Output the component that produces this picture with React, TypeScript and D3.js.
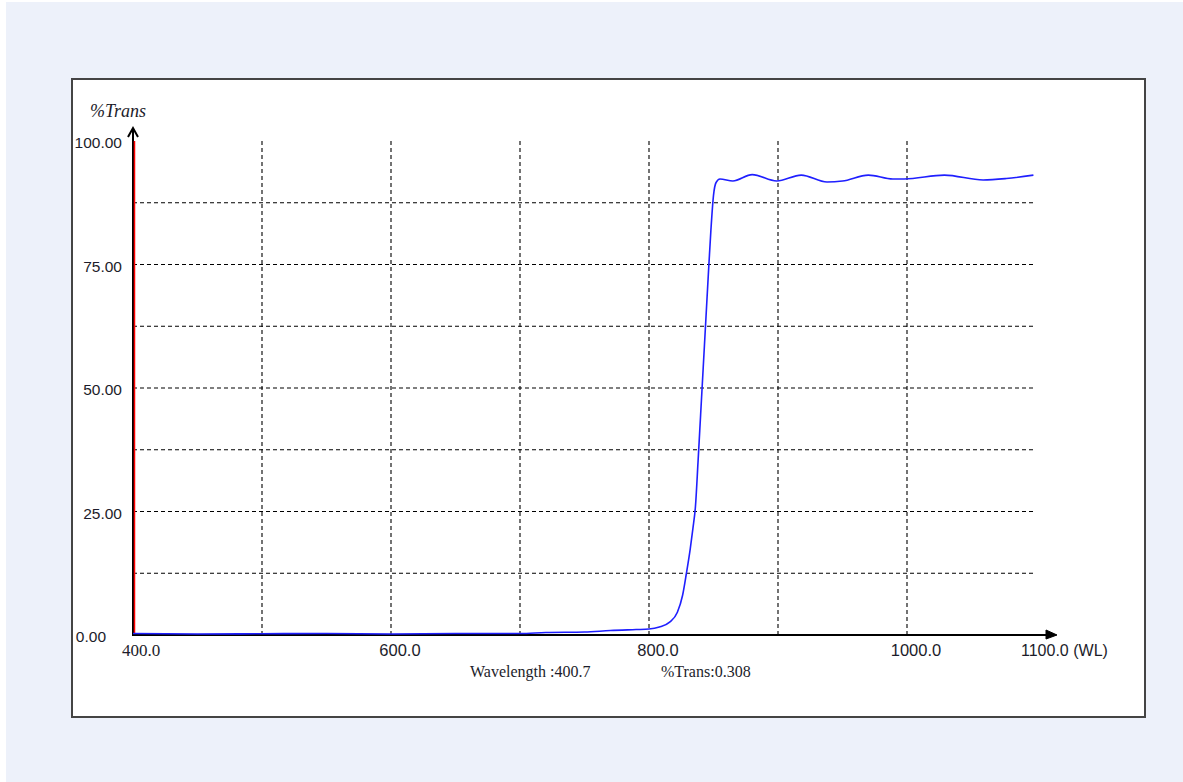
import { useMemo } from "react";
import * as d3 from "d3";

// spectrum: wavelength (nm) and %T
const wavelengths = [
  400, 450, 500, 550, 600, 650, 700, 720, 750, 770, 790, 800, 808, 816, 822,
  826, 829, 832, 834, 836, 838, 840, 842, 844, 846, 848, 850, 852, 855, 865,
  880, 899, 918, 938, 950, 970, 989, 998, 1029, 1059, 1077, 1098,
];
const transmission = [
  0.3, 0.2, 0.25, 0.3, 0.2, 0.3, 0.3, 0.5, 0.6, 0.9, 1.1, 1.2, 1.6, 2.6, 4.6,
  8, 12.5, 17.5, 21.5, 26, 35, 44.5, 54, 63.5, 73, 82, 89, 91.6, 92.3, 91.9,
  93.2, 91.9, 93.1, 91.7, 91.9, 93.1, 92.3, 92.3, 93.1, 92.1, 92.4, 93.1,
];

const xTicks = [400, 600, 800, 1000];
const xGrid = [500, 600, 700, 800, 900, 1000];
const yTicks = [0, 25, 50, 75, 100];
const yGrid = [12.5, 25, 37.5, 50, 62.5, 75, 87.5];

const W = 1183;
const H = 782;

const App = () => {
  const x = d3.scaleLinear().domain([400, 1100]).range([133, 1036]);
  const y = d3.scaleLinear().domain([0, 100]).range([635, 141]);

  const path = useMemo(() => {
    const pts = wavelengths.map((w, i) => [w, transmission[i]] as [number, number]);
    return d3
      .line<[number, number]>()
      .x((d) => x(d[0]))
      .y((d) => y(d[1]))
      .curve(d3.curveMonotoneX)(pts);
  }, []);

  const tickFont = "'Liberation Sans', Arial, sans-serif";
  const serif = "'Liberation Serif', 'Times New Roman', serif";
  const ink = "#1c1c2a";

  return (
    <svg
      width={W}
      height={H}
      style={{ position: "absolute", left: 0, top: 0 }}
    >
      <rect x={0} y={0} width={W} height={H} fill="#ffffff" />
      <rect x={6} y={2} width={W - 6} height={H - 2} fill="#edf1fa" />
      {/* panel */}
      <rect
        x={72}
        y={79}
        width={1073}
        height={638}
        fill="#ffffff"
        stroke="#444"
        strokeWidth={2}
      />

      {/* grid */}
      {yGrid.map((v) => (
        <line
          key={"h" + v}
          x1={x(400)}
          x2={x(1100)}
          y1={y(v)}
          y2={y(v)}
          stroke="#000"
          strokeWidth={1.1}
          strokeDasharray="4,3"
        />
      ))}
      {xGrid.map((v) => (
        <line
          key={"v" + v}
          x1={x(v)}
          x2={x(v)}
          y1={y(100)}
          y2={y(0)}
          stroke="#000"
          strokeWidth={1.1}
          strokeDasharray="4,3"
        />
      ))}

      {/* axes */}
      <line x1={x(400)} x2={x(400)} y1={y(0) + 1} y2={y(100) - 13} stroke="#000" strokeWidth={2} />
      <polyline
        points={`${x(400) - 5},${y(100) - 4} ${x(400)},${y(100) - 13} ${x(400) + 5},${y(100) - 4}`}
        fill="none"
        stroke="#000"
        strokeWidth={2}
      />
      <line x1={x(400) + 1.5} x2={x(400) + 1.5} y1={y(0)} y2={y(100)} stroke="#ff0000" strokeWidth={1.5} />
      <line x1={x(400) - 1} x2={x(1100) + 18} y1={y(0)} y2={y(0)} stroke="#000" strokeWidth={2} />
      <path
        d={`M${x(1100) + 10},${y(0) - 5} L${x(1100) + 21},${y(0)} L${x(1100) + 10},${y(0) + 4} Z`}
        fill="#000"
        stroke="#000"
        strokeWidth={1}
      />

      {/* curve */}
      <path d={path ?? ""} fill="none" stroke="#1f1fff" strokeWidth={1.6} />

      {/* y labels */}
      <text x={90} y={117} fontFamily={serif} fontStyle="italic" fontSize={18} fill={ink}>
        %Trans
      </text>
      {yTicks.map((v) => (
        <text
          key={"yl" + v}
          x={v === 0 ? 106 : 122}
          y={y(v) + 7}
          textAnchor="end"
          fontFamily={tickFont}
          fontSize={15.5}
          fill={ink}
        >
          {v.toFixed(2)}
        </text>
      ))}

      {/* x labels */}
      {xTicks.map((v) => (
        <text
          key={"xl" + v}
          x={x(v) + (v === 400 ? 8 : 9)}
          y={y(0) + 21}
          textAnchor="middle"
          fontFamily={v === 400 ? serif : tickFont}
          fontSize={v === 400 ? 17 : 16.5}
          fill={ink}
        >
          {v.toFixed(1)}
        </text>
      ))}
      <text x={x(1100) - 15} y={y(0) + 21} fontFamily={tickFont} fontSize={16} fill={ink}>
        1100.0 (WL)
      </text>

      {/* readout */}
      <text x={470} y={677} fontFamily={serif} fontSize={16} fill={ink}>
        Wavelength :400.7
      </text>
      <text x={661} y={677} fontFamily={serif} fontSize={16} fill={ink}>
        %Trans:0.308
      </text>
    </svg>
  );
};

export default App;
